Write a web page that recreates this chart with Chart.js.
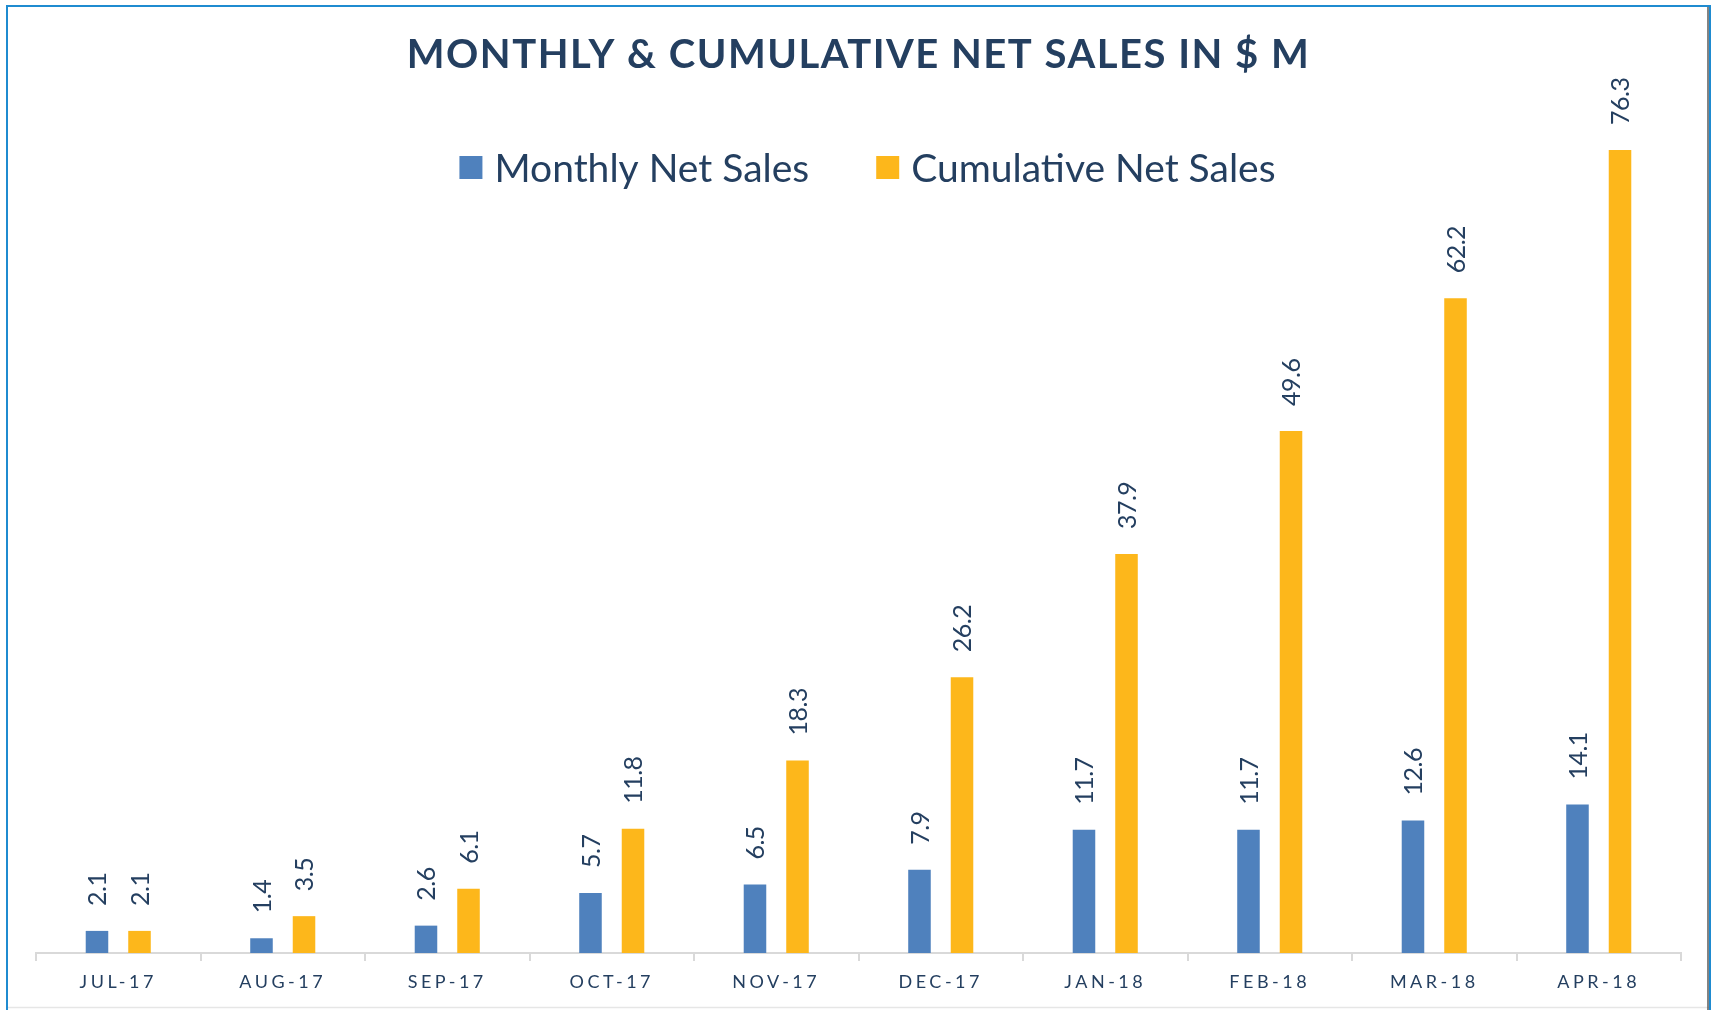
<!DOCTYPE html>
<html>
<head>
<meta charset="utf-8">
<script src="https://cdn.jsdelivr.net/npm/chart.js@4.4.1/dist/chart.umd.min.js"></script>
<style>
    html, body { margin: 0; padding: 0; background: #fff; overflow: hidden; }
    #wrap { width: 1715px; height: 1010px; position: relative; }
</style>
</head>
<body>
<div id="wrap"><canvas id="graph"></canvas></div>
<script>
const months = ["JUL-17", "AUG-17", "SEP-17", "OCT-17", "NOV-17", "DEC-17", "JAN-18", "FEB-18", "MAR-18", "APR-18"];
const monthlySales = [2.1, 1.4, 2.6, 5.7, 6.5, 7.9, 11.7, 11.7, 12.6, 14.1];
const cumulativeSales = [2.1, 3.5, 6.1, 11.8, 18.3, 26.2, 37.9, 49.6, 62.2, 76.3];
const chartTitle = "MONTHLY & CUMULATIVE NET SALES IN $ M";

const navy = "#243f60";
const fontName = "Lato, 'Open Sans', sans-serif";

// frame, title, legend and value labels drawn by hand (spaced letters like the source)
const decorPlugin = {
    id: "decor",
    beforeDraw(chart) {
        const ctx = chart.ctx;
        const w = chart.width, h = chart.height;
        ctx.save();
        ctx.fillStyle = "#fff";
        ctx.fillRect(0, 0, w, h);
        ctx.strokeStyle = "#e6e6e6";
        ctx.lineWidth = 1.5;
        ctx.beginPath();
        ctx.moveTo(7, h - 2.5);
        ctx.lineTo(w - 6, h - 2.5);
        ctx.stroke();
        ctx.strokeStyle = "#5a5a5a";
        ctx.lineWidth = 1.5;
        ctx.beginPath();
        ctx.moveTo(w - 7, 6);
        ctx.lineTo(w - 7, h);
        ctx.stroke();
        ctx.strokeStyle = "#1f8bd0";
        ctx.lineWidth = 2;
        ctx.beginPath();
        ctx.moveTo(7, h);
        ctx.lineTo(7, 6);
        ctx.lineTo(w - 5, 6);
        ctx.lineTo(w - 5, h);
        ctx.stroke();
        ctx.restore();
        // spacing for the category tick labels
        ctx.letterSpacing = "3.5px";
    },
    afterDatasetsDraw(chart) {
        const ctx = chart.ctx;
        ctx.save();
        ctx.letterSpacing = "-0.5px";
        ctx.fillStyle = navy;
        ctx.font = "25px " + fontName;
        ctx.textAlign = "left";
        ctx.textBaseline = "middle";
        chart.data.datasets.forEach((ds, di) => {
            chart.getDatasetMeta(di).data.forEach((bar, i) => {
                ctx.save();
                ctx.translate(bar.x + 1, bar.y - 25);
                ctx.rotate(-Math.PI / 2);
                ctx.fillText(ds.data[i].toFixed(1), 0, 0);
                ctx.restore();
            });
        });
        ctx.restore();
    },
    afterDraw(chart) {
        const ctx = chart.ctx;
        const cx = chart.width / 2;
        ctx.save();
        ctx.fillStyle = navy;
        ctx.textBaseline = "alphabetic";
        ctx.textAlign = "center";
        ctx.font = "bold 40px " + fontName;
        ctx.letterSpacing = "1.5px";
        ctx.fillText(chartTitle, cx + 1, 68);

        // legend
        ctx.font = "39px " + fontName;
        ctx.letterSpacing = "0px";
        ctx.textAlign = "left";
        const box = 23, gap = 12, between = 67;
        const items = chart.data.datasets.map((ds) => ({
            label: ds.label,
            color: ds.backgroundColor,
            w: ctx.measureText(ds.label).width
        }));
        let total = 0;
        items.forEach((it, i) => { total += box + gap + it.w + (i ? between : 0); });
        let x = cx + 10 - total / 2;
        const y = 167.5;
        items.forEach((it) => {
            ctx.fillStyle = it.color;
            ctx.fillRect(x, y - box / 2, box, box);
            ctx.fillStyle = navy;
            ctx.fillText(it.label, x + box + gap, y + 14.5);
            x += box + gap + it.w + between;
        });
        ctx.restore();
    }
};

const ctx = document.getElementById("graph").getContext("2d");
new Chart(ctx, {
    type: "bar",
    data: {
        labels: months,
        datasets: [
            {label: "Monthly Net Sales", data: monthlySales, backgroundColor: "#4f81bd"},
            {label: "Cumulative Net Sales", data: cumulativeSales, backgroundColor: "#fdb71b"}
        ]
    },
    options: {
        responsive: true,
        maintainAspectRatio: false,
        animation: false,
        devicePixelRatio: 1,
        layout: {padding: {top: 111, left: 36, right: 34, bottom: 0}},
        datasets: {bar: {categoryPercentage: 0.517, barPercentage: 0.53}},
        plugins: {
            legend: {display: false},
            title: {display: false},
            tooltip: {enabled: false}
        },
        scales: {
            x: {
                afterFit: (scale) => { scale.height = 57; },
                grid: {
                    display: true,
                    drawOnChartArea: false,
                    drawTicks: true,
                    tickLength: 8,
                    color: "#d9d9d9",
                    lineWidth: 2
                },
                border: {display: true, color: "#d9d9d9", width: 2},
                ticks: {
                    color: navy,
                    font: {family: fontName, size: 18},
                    padding: 10,
                    autoSkip: false,
                    maxRotation: 0
                }
            },
            y: {
                display: false,
                min: 0,
                max: 80
            }
        }
    },
    plugins: [decorPlugin]
});
</script>
</body>
</html>
